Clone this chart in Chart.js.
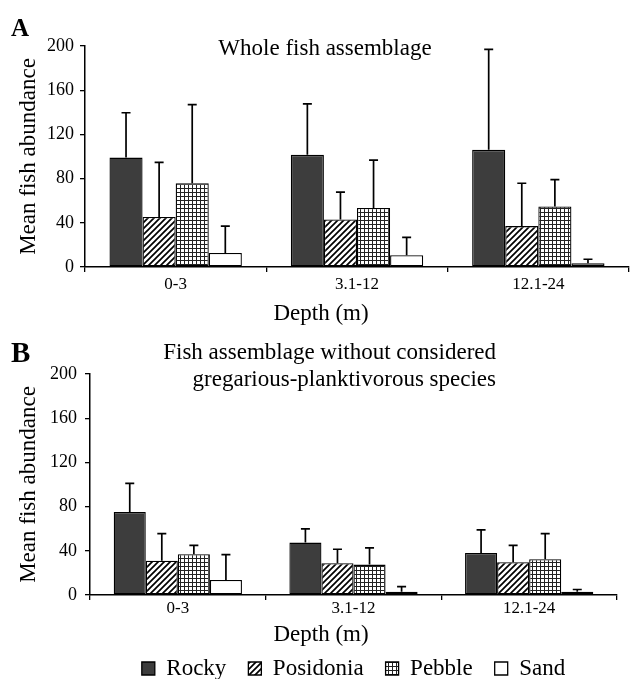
<!DOCTYPE html>
<html><head><meta charset="utf-8">
<script src="https://cdn.jsdelivr.net/npm/chart.js@4.4.1/dist/chart.umd.min.js"></script>
<style>
html,body{margin:0;padding:0;background:#fff;overflow:hidden;width:630px;height:679px;}
#ca{position:absolute;left:0;top:0;}
#cb{position:absolute;left:0;top:330px;}
</style></head><body>
<canvas id="ca" width="630" height="330"></canvas>
<canvas id="cb" width="630" height="360"></canvas>
<script>
// ---------- data ----------
const categories = ['0-3', '3.1-12', '12.1-24'];
const seriesNames = ['Rocky', 'Posidonia', 'Pebble', 'Sand'];
const yMin = 0, yMax = 200, yStep = 40;

// Panel A: whole fish assemblage (means and SD)
const aRocky = [99, 101.5, 106];
const aRockySd = [40.6, 46.2, 91];
const aPosidonia = [45.3, 43, 37];
const aPosidoniaSd = [49.3, 24.7, 38.8];
const aPebble = [75.8, 53.5, 54.7];
const aPebbleSd = [71.2, 43.2, 24.3];
const aSand = [12.7, 10.6, 3.3];
const aSandSd = [24.3, 16.3, 3.7];

// Panel B: without gregarious-planktivorous species
const bRocky = [75.2, 47.4, 38];
const bRockySd = [25.8, 12.4, 21];
const bPosidonia = [31, 28.7, 29.6];
const bPosidoniaSd = [24.6, 12.7, 15.4];
const bPebble = [36.9, 27.5, 32.3];
const bPebbleSd = [8.1, 15.1, 23.3];
const bSand = [13.6, 3, 3];
const bSandSd = [23, 4.6, 2];

// ---------- styles ----------
const FONT = "'Liberation Serif', 'Times New Roman', serif";
function hatchPattern() {
  const n = 6;
  const c = document.createElement('canvas'); c.width = n; c.height = n;
  const x = c.getContext('2d');
  x.fillStyle = '#fff'; x.fillRect(0, 0, n, n);
  x.strokeStyle = '#000'; x.lineWidth = 1.7;
  x.beginPath();
  x.moveTo(-1, n + 1); x.lineTo(n + 1, -1);
  x.moveTo(-1, 1); x.lineTo(1, -1);
  x.moveTo(n - 1, n + 1); x.lineTo(n + 1, n - 1);
  x.stroke();
  return x.createPattern(c, 'repeat');
}
function gridPattern() {
  const c = document.createElement('canvas'); c.width = 4; c.height = 4;
  const x = c.getContext('2d');
  x.fillStyle = '#fff'; x.fillRect(0, 0, 4, 4);
  x.fillStyle = '#222'; x.fillRect(0, 0, 4, 1); x.fillRect(0, 0, 1, 4);
  return x.createPattern(c, 'repeat');
}
const fills = ['#3d3d3d', hatchPattern(), gridPattern(), '#ffffff'];

function makeDatasets(vals, sds) {
  return vals.map((v, i) => ({
    label: seriesNames[i], data: v, err: sds[i],
    backgroundColor: fills[i], borderColor: '#000', borderWidth: 1.3,
    borderSkipped: false, categoryPercentage: 0.73, barPercentage: 1.0
  }));
}

const errorBars = {
  id: 'errorBars',
  afterDatasetsDraw(chart) {
    const ctx = chart.ctx, ys = chart.scales.y;
    ctx.save();
    ctx.strokeStyle = '#000'; ctx.lineWidth = 1.7;
    chart.data.datasets.forEach((ds, di) => {
      const meta = chart.getDatasetMeta(di);
      meta.data.forEach((bar, i) => {
        const v = ds.data[i], e = ds.err[i];
        const yb = ys.getPixelForValue(v), yt = ys.getPixelForValue(v + e);
        ctx.beginPath();
        ctx.moveTo(bar.x, yb); ctx.lineTo(bar.x, yt);
        ctx.moveTo(bar.x - 4.5, yt); ctx.lineTo(bar.x + 4.5, yt);
        ctx.stroke();
      });
    });
    ctx.restore();
  }
};

const panelText = {
  id: 'panelText',
  afterDraw(chart, args, opts) {
    const ctx = chart.ctx;
    ctx.save();
    ctx.fillStyle = '#000';
    ctx.textBaseline = 'alphabetic';
    (opts.items || []).forEach(it => {
      ctx.font = (it.bold ? 'bold ' : '') + it.size + 'px ' + FONT;
      ctx.textAlign = it.align || 'left';
      ctx.fillText(it.text, it.x, it.y);
    });
    ctx.restore();
  }
};

function makeOptions(cfg) {
  return {
    responsive: false, animation: false,
    layout: { padding: { top: cfg.top, left: 0, right: cfg.right, bottom: 0 } },
    plugins: {
      legend: cfg.legend,
      tooltip: { enabled: false },
      panelText: { items: cfg.texts }
    },
    scales: {
      x: {
        grid: { offset: true, drawOnChartArea: false, drawTicks: true, tickLength: 5, color: '#000', lineWidth: 1.3 },
        border: { display: true, color: '#000', width: 1.5 },
        ticks: { color: '#000', font: { family: FONT, size: 17, lineHeight: 1 }, padding: cfg.xPad, autoSkip: false, maxRotation: 0 },
        afterFit(s) { s.height = cfg.xH; }
      },
      y: {
        min: yMin, max: yMax,
        ticks: { stepSize: yStep, color: '#000', font: { family: FONT, size: 18 }, padding: cfg.yPad },
        grid: { drawOnChartArea: false, drawTicks: true, tickLength: 5, color: '#000', lineWidth: 1.3 },
        border: { display: true, color: '#000', width: 1.5 },
        title: { display: true, text: 'Mean fish abundance', color: '#000', font: { family: FONT, size: 23, lineHeight: 1.2 }, padding: { top: 15, bottom: 0 } },
        afterFit(s) { s.width = cfg.yW; }
      }
    }
  };
}

new Chart(document.getElementById('ca'), {
  type: 'bar',
  data: { labels: categories, datasets: makeDatasets([aRocky, aPosidonia, aPebble, aSand], [aRockySd, aPosidoniaSd, aPebbleSd, aSandSd]) },
  options: makeOptions({
    top: 46, right: 1, xH: 63, xPad: 4, yPad: 6, yW: 85,
    legend: { display: false },
    texts: [
      { text: 'A', x: 11, y: 36, size: 25, bold: true },
      { text: 'Whole fish assemblage', x: 325, y: 55, size: 23, align: 'center' },
      { text: 'Depth (m)', x: 321, y: 320, size: 23, align: 'center' }
    ]
  }),
  plugins: [errorBars, panelText]
});

new Chart(document.getElementById('cb'), {
  type: 'bar',
  data: { labels: categories, datasets: makeDatasets([bRocky, bPosidonia, bPebble, bSand], [bRockySd, bPosidoniaSd, bPebbleSd, bSandSd]) },
  options: makeOptions({
    top: 44, right: 13, xH: 40, xPad: 0, yPad: 8, yW: 90,
    legend: {
      display: true, position: 'bottom', fullSize: false,
      labels: { color: '#000', font: { family: FONT, size: 23 }, boxWidth: 13, boxHeight: 13, padding: 22 }
    },
    texts: [
      { text: 'B', x: 11, y: 32, size: 29, bold: true },
      { text: 'Fish assemblage without considered', x: 496, y: 29, size: 23, align: 'right' },
      { text: 'gregarious-planktivorous species', x: 496, y: 56, size: 23, align: 'right' },
      { text: 'Depth (m)', x: 321, y: 311, size: 23, align: 'center' }
    ]
  }),
  plugins: [errorBars, panelText]
});
</script>
</body></html>
